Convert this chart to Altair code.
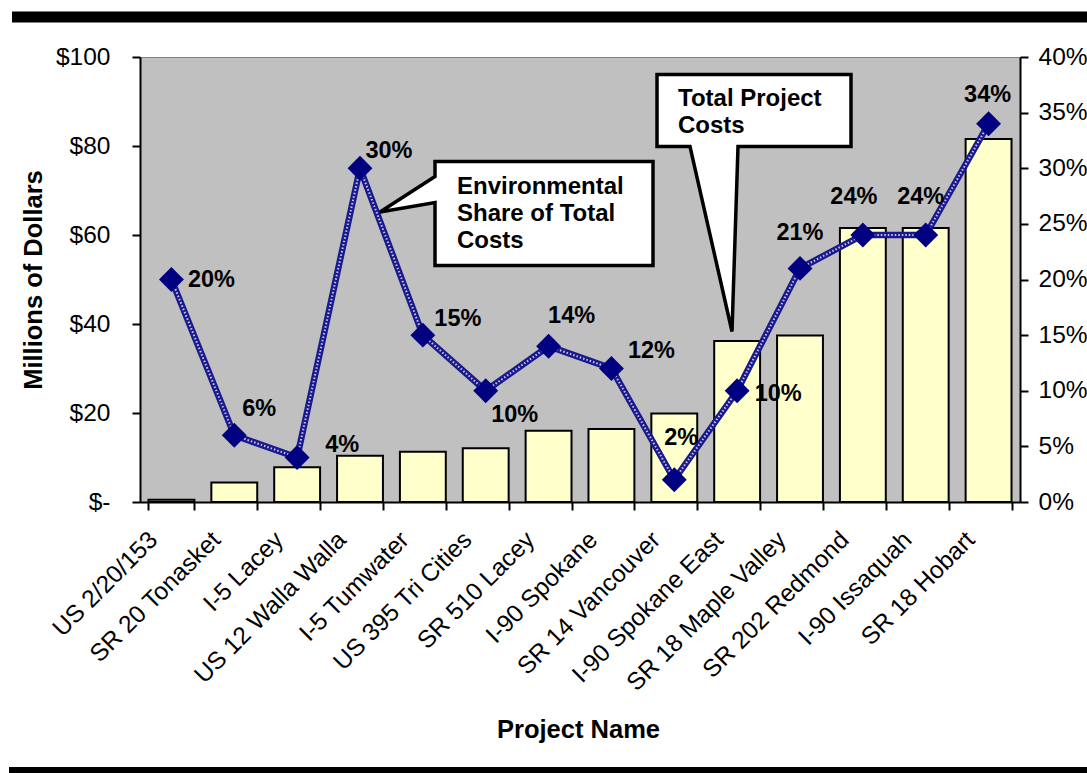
import altair as alt
import pandas as pd

# Project names, total project cost ($ millions) and environmental share (%)
projects = [
    "US 2/20/153", "SR 20 Tonasket", "I-5 Lacey", "US 12 Walla Walla",
    "I-5 Tumwater", "US 395 Tri Cities", "SR 510 Lacey", "I-90 Spokane",
    "SR 14 Vancouver", "I-90 Spokane East", "SR 18 Maple Valley",
    "SR 202 Redmond", "I-90 Issaquah", "SR 18 Hobart",
]
total_cost = [0.5, 4.4, 7.8, 10.4, 11.3, 12.1, 16.0, 16.4, 19.9, 36.2, 37.4, 61.6, 61.6, 81.6]
env_share = [20, 6, 4, 30, 15, 10, 14, 12, 2, 10, 21, 24, 24, 34]

cost_ticks = [0, 20, 40, 60, 80, 100]
share_ticks = [0, 5, 10, 15, 20, 25, 30, 35, 40]

df = pd.DataFrame({"project": projects, "cost": total_cost, "share": env_share})
df["label"] = df["share"].astype(str) + "%"

# pixel nudges for the percentage labels around each marker
label_nudge = {
    "US 2/20/153": (40, 0), "SR 20 Tonasket": (25, -26), "I-5 Lacey": (45, -13),
    "US 12 Walla Walla": (29, -17), "I-5 Tumwater": (35, -16),
    "US 395 Tri Cities": (29, 24), "SR 510 Lacey": (23, -30),
    "I-90 Spokane": (40, -18), "SR 14 Vancouver": (7, -42),
    "I-90 Spokane East": (41, 3), "SR 18 Maple Valley": (0, -35),
    "SR 202 Redmond": (-9, -38), "I-90 Issaquah": (-5, -38), "SR 18 Hobart": (-1, -29),
}

FONT = "Liberation Sans"
W, H = 880, 445
TICK_FS = 24.5
TITLE_FS = 25.5
LABEL_FS = 23.5

x_enc = alt.X(
    "project:N", sort=projects,
    scale=alt.Scale(paddingInner=0.27, paddingOuter=0.135),
    axis=alt.Axis(
        title="Project Name", titleFont=FONT, titleFontSize=TITLE_FS, titleFontWeight="bold",
        titleColor="black", titleX=438, titleY=227, titleBaseline="middle",
        labelAngle=-45, labelAlign="right", labelBaseline="middle",
        labelFont=FONT, labelFontSize=TICK_FS, labelColor="black",
        labelPadding=26, labelOffset=-18, tickBand="extent",
        tickSize=8, tickWidth=2, tickColor="black",
        domainColor="black", domainWidth=2, labelLimit=400,
    ),
)

bars = alt.Chart(df).mark_bar(fill="#FFFFCC", stroke="black", strokeWidth=2).encode(
    x=x_enc,
    y=alt.Y(
        "cost:Q", scale=alt.Scale(domain=[0, 100], nice=False),
        axis=alt.Axis(
            values=cost_ticks,
            labelExpr="datum.value == 0 ? '$-' : '$' + datum.value",
            title="Millions of Dollars", titleFont=FONT, titleFontSize=TITLE_FS,
            titleFontWeight="bold", titleColor="black", titleAngle=270,
            titleX=-107, titleY=H / 2, titleAlign="center", titleBaseline="middle",
            labelFont=FONT, labelFontSize=TICK_FS, labelColor="black", labelPadding=22,
            tickSize=8, tickWidth=2, tickColor="black",
            domainColor="black", domainWidth=2, grid=False,
        ),
    ),
)

y_share = alt.Y(
    "share:Q", scale=alt.Scale(domain=[0, 40], nice=False),
    axis=alt.Axis(
        orient="right", values=share_ticks, labelExpr="datum.value + '%'",
        title=None, labelFont=FONT, labelFontSize=TICK_FS, labelColor="black",
        labelPadding=10, tickSize=8, tickWidth=2, tickColor="black",
        domainColor="black", domainWidth=2, grid=False,
    ),
)

base = alt.Chart(df).encode(x=x_enc, y=y_share)

line_outer = base.mark_line(color="#1a1a8c", strokeWidth=6.5)
line_inner = base.mark_line(color="#d8d8ff", strokeWidth=2, strokeDash=[1.5, 2], opacity=0.9)
markers = base.mark_point(shape="diamond", filled=True, color="#000080", size=620, opacity=1)

label_layers = [
    base.transform_filter(alt.datum.project == p).mark_text(
        font=FONT, fontSize=LABEL_FS, fontWeight="bold", color="black",
        align="center", baseline="middle", dx=dx, dy=dy,
    ).encode(text="label:N")
    for p, (dx, dy) in label_nudge.items()
]

share_layer = alt.layer(line_outer, line_inner, markers, *label_layers)

# callout balloons, drawn as single outlined polygons in plot pixel space
env_path = "M295,104.5 L513,104.5 L513,208.5 L295,208.5 L295,145.5 L240,155 L295,119.5 Z"
total_path = "M517,17.5 L711,17.5 L711,89.5 L598,89.5 L592,274.5 L550,89.5 L517,89.5 Z"

anchor = pd.DataFrame({"k": [0]})


def balloon(path):
    return alt.Chart(anchor).mark_point(
        shape=path, size=4, filled=True, fill="white", stroke="black",
        strokeWidth=3.5, opacity=1, strokeJoin="miter",
    ).encode(x=alt.value(0), y=alt.value(0))


def balloon_text(lines, px, py):
    # py is the centre of the first line
    return alt.Chart(anchor).mark_text(
        text=lines, font=FONT, fontSize=24, fontWeight="bold", color="black",
        align="left", baseline="middle", lineHeight=27,
    ).encode(x=alt.value(px), y=alt.value(py))


env_box = balloon(env_path)
env_text = balloon_text(["Environmental", "Share of Total", "Costs"], 317, 130)
tot_box = balloon(total_path)
tot_text = balloon_text(["Total Project", "Costs"], 538, 42)

# heavy rules framing the figure top and bottom
top_rule = alt.Chart(anchor).mark_rule(color="black", strokeWidth=11).encode(
    x=alt.value(-128), x2=alt.value(950), y=alt.value(-40)
)
bottom_rule = alt.Chart(anchor).mark_rule(color="black", strokeWidth=6).encode(
    x=alt.value(-131), x2=alt.value(950), y=alt.value(713)
)

chart = alt.layer(
    bars, share_layer, env_box, env_text, tot_box, tot_text, top_rule, bottom_rule
).resolve_scale(y="independent").properties(
    width=W, height=H,
    autosize=alt.AutoSizeParams(type="none"),
    padding={"left": 140, "top": 57, "right": 67, "bottom": 271},
    background="white",
).configure_view(fill="#C0C0C0", stroke="#808080", strokeWidth=1)

chart.save("out.html", embed_options={"renderer": "svg", "actions": False})
